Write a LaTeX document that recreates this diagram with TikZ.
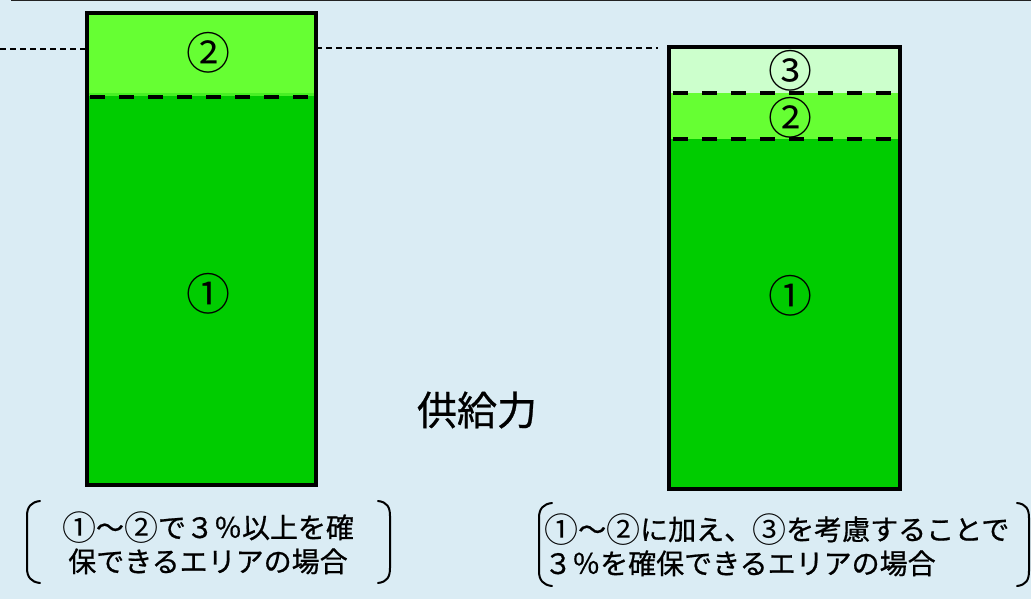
\documentclass[tikz,border=0pt]{standalone}
\usepackage{fontspec}
\setmainfont{Noto Sans CJK JP}[RawFeature={embolden=0.7}]
\newfontfamily\cnfont{Noto Sans CJK JP}
\definecolor{bg}{HTML}{DAECF4}
\definecolor{gA}{HTML}{00CC00}
\definecolor{gB}{HTML}{66FF33}
\definecolor{gC}{HTML}{CCFFCC}
\definecolor{topline}{HTML}{222222}
\newcommand\cnum[1]{{\cnfont\fontsize{34}{34}\selectfont\raisebox{-2.5pt}{#1}}}
\begin{document}
\begin{tikzpicture}[x=1pt,y=-1pt,
  barline/.style={line width=4pt,draw=black},
  bandsep/.style={line width=3.5pt,dash pattern=on 15pt off 14pt},
  refline/.style={line width=1.6pt,dash pattern=on 6pt off 4pt},
  numlabel/.style={inner sep=0pt,font=\cnfont\fontsize{44}{48}\selectfont},
  caption/.style={inner sep=0pt,font=\fontsize{28}{34}\selectfont},
  brk/.style={line width=2pt,line cap=round}]
\fill[bg] (0,0) rectangle (1031,599);
\useasboundingbox (0,0) rectangle (1031,599);
\draw[topline,line width=2pt] (11,0.5) -- (1031,0.5);
% reference dashed line
\coordinate (r0) at (0,49);
\coordinate (r1) at (86,49);
\coordinate (r2) at (316,48);
\coordinate (r3) at (658,48);
\draw[refline] (r0) -- (r1);
\draw[refline] (r2) -- (r3);
% left bar
\fill[gA] (87,95) rectangle (316,485);
\fill[gB] (87,13) rectangle (316,93);
\fill[gB!70!gA] (87,93) rectangle (316,96);
\coordinate (L1) at (90,97);
\coordinate (L2) at (313,97);
\draw[bandsep] (L1) -- (L2);
\draw[barline] (87,13) rectangle (316,485);
\node[numlabel] (l2) at (208,53) {②};
\node[numlabel] (l1) at (208,294) {①};
% right bar
\fill[gA] (669,139) rectangle (900,489);
\fill[gB] (669,93) rectangle (900,139);
\fill[gC] (669,47) rectangle (900,93);
\coordinate (R1a) at (673,93);
\coordinate (R1b) at (894,93);
\coordinate (R2a) at (673,139);
\coordinate (R2b) at (894,139);
\draw[bandsep] (R1a) -- (R1b);
\draw[bandsep] (R2a) -- (R2b);
\draw[barline] (669,47) rectangle (900,489);
\node[numlabel] (r3l) at (790,71) {③};
\node[numlabel] (r2l) at (790,118) {②};
\node[numlabel] (r1l) at (790,296) {①};
% supply label
\node[inner sep=0pt,font=\fontsize{40}{42}\selectfont] (sup) at (477,410) {供給力};
% captions
\node[caption,align=center] (capL) at (208,543) {\cnum{①}～\cnum{②}で３％以上を確\\保できるエリアの場合};
\node[caption,align=left,anchor=west] (capR) at (544,545) {\cnum{①}～\cnum{②}に加え、\cnum{③}を考慮することで\\３％を確保できるエリアの場合};
% brackets
\draw[brk] (40,501) .. controls (31,502) and (27,507) .. (27,516) -- (27,568) .. controls (27,577) and (31,582) .. (40,583);
\draw[brk] (378,501) .. controls (387,502) and (390,507) .. (390,516) -- (390,568) .. controls (390,577) and (387,582) .. (378,583);
\draw[brk] (552,503) .. controls (543,504) and (539,509) .. (539,518) -- (539,571) .. controls (539,580) and (543,585) .. (552,586);
\draw[brk] (1017,503) .. controls (1026,504) and (1029,509) .. (1029,518) -- (1029,571) .. controls (1029,580) and (1026,585) .. (1017,586);
\end{tikzpicture}
\end{document}
